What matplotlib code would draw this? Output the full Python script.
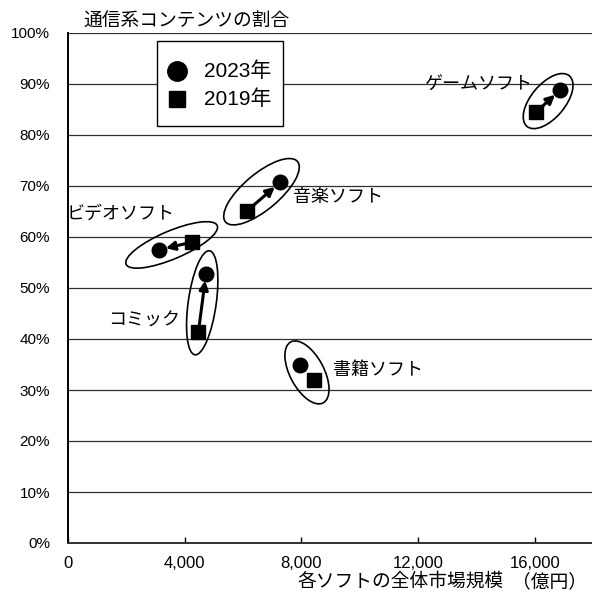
import matplotlib
matplotlib.use('Agg')
from matplotlib import pyplot as plt
from matplotlib.lines import Line2D
from matplotlib.patches import Ellipse, Rectangle
from matplotlib.transforms import ScaledTranslation

plt.rcParams['font.family'] = ['Liberation Sans', 'Noto Sans CJK JP']

# =============================================================================
# Data: market size (100M yen) and share of online-delivered content (%)
# =============================================================================
softs = ['ゲームソフト', '音楽ソフト', 'ビデオソフト', 'コミック', '書籍ソフト']
size_2023 = [16870, 7270, 3120, 4730, 7950]
share_2023 = [88.8, 70.7, 57.5, 52.8, 35.0]
size_2019 = [16040, 6130, 4260, 4470, 8430]
share_2019 = [84.5, 65.1, 59.0, 41.4, 31.9]
x_ticks = [0, 4000, 8000, 12000, 16000]
y_ticks = list(range(0, 101, 10))
years = ['2023年', '2019年']

# label placement (offset in pixels from the 2023 point)
label_style = [
    dict(off=(-28, 5), ha='right'),
    dict(off=(13, -15), ha='left'),
    dict(off=(16, 35), ha='right'),
    dict(off=(-26, -47), ha='right'),
    dict(off=(33, -6), ha='left'),
]
# width, height (pixels), angle (deg), center shift (pixels)
ellipse_style = [
    (66, 34, 50, (0, 0)),
    (94, 36, 40, (-2, 5)),
    (99, 28, 23, (-4, 1)),
    (105, 28, 82, (0, 0)),
    (69, 34, -62, (0, 0)),
]
draw_arrow = [True, True, True, True, False]

W, H = 592, 604
fig = plt.figure(figsize=(W / 100, H / 100), dpi=100)
ax = fig.add_axes([68 / W, 1 - 543 / H, 525.2 / W, 510 / H])

ax.set_xlim(0, 18000)
ax.set_ylim(0, 100)

# horizontal grid
for v in y_ticks[1:]:
    ax.axhline(v, color='#303030', lw=0.9, zorder=1)

for s in ['top', 'right']:
    ax.spines[s].set_visible(False)
ax.spines['left'].set_linewidth(1.4)
ax.spines['bottom'].set_linewidth(1.4)
ax.spines['bottom'].set_color('#303030')

ax.set_xticks(x_ticks)
ax.set_xticklabels(['{:,}'.format(v) for v in x_ticks], fontsize=12)
ax.set_yticks(y_ticks)
ax.set_yticklabels(['%d%%' % v for v in y_ticks], fontsize=11)
ax.tick_params(axis='x', direction='in', length=4, width=1, pad=9)
ax.tick_params(axis='y', length=0, pad=13)

# 2019 -> 2023 movement
for i in range(len(softs)):
    x0, y0 = size_2019[i], share_2019[i]
    x1, y1 = size_2023[i], share_2023[i]
    if draw_arrow[i]:
        ax.annotate('', xy=(x1, y1), xytext=(x0, y0),
                    arrowprops=dict(arrowstyle='-|>', color='black', lw=2.2,
                                    mutation_scale=13, shrinkA=0, shrinkB=5),
                    zorder=3)

ax.plot(size_2019, share_2019, 's', color='black', ms=10.5, zorder=4,
        clip_on=False)
ax.plot(size_2023, share_2023, 'o', color='black', ms=10.5, zorder=4,
        clip_on=False)

# ellipses around each pair
for i in range(len(softs)):
    cx = (size_2019[i] + size_2023[i]) / 2
    cy = (share_2019[i] + share_2023[i]) / 2
    w, h, ang, (dx, dy) = ellipse_style[i]
    tr = fig.dpi_scale_trans + ScaledTranslation(cx, cy, ax.transData)
    e = Ellipse((dx / 100, dy / 100), w / 100, h / 100, angle=ang,
                transform=tr, fill=False, edgecolor='black', lw=1.2,
                zorder=5)
    ax.add_patch(e)

# names
for i, name in enumerate(softs):
    st = label_style[i]
    ax.annotate(name, xy=(size_2023[i], share_2023[i]), xytext=st['off'],
                textcoords='offset pixels', ha=st['ha'], va='center',
                fontsize=13, zorder=6)

# legend box drawn by hand (figure pixels)
fig.patches.append(Rectangle((157 / W, 1 - 126 / H), 126 / W, 85 / H,
                             transform=fig.transFigure, facecolor='white',
                             edgecolor='black', lw=1.0, zorder=10))
for j, (mk, ms) in enumerate([('o', 14), ('s', 12)]):
    yy = 1 - (71 + 28 * j) / H
    fig.add_artist(Line2D([177 / W], [yy], marker=mk, ms=ms, color='black',
                          ls='none', transform=fig.transFigure, zorder=11))
    fig.text(204 / W, yy, years[j], fontsize=15, va='center', ha='left',
             zorder=11)

fig.text(83 / W, 1 - 22 / H, '通信系コンテンツの割合', fontsize=13.5,
         va='center', ha='left')
# x axis title, unit set apart
fig.text(297 / W, 1 - 582 / H, '各ソフトの全体市場規模', fontsize=13.5,
         va='center', ha='left')
fig.text(512 / W, 1 - 582 / H, '（億円）', fontsize=13.5,
         va='center', ha='left')

plt.savefig('out.png', dpi=100)
